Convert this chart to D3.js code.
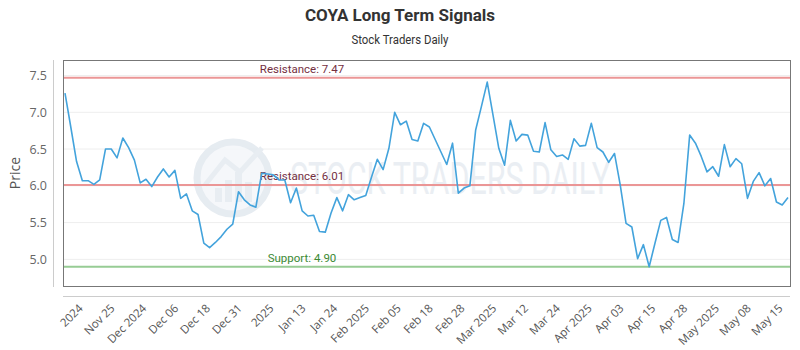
<!DOCTYPE html>
<html>
<head>
<meta charset="utf-8">
<script src="https://cdn.jsdelivr.net/npm/d3@7/dist/d3.min.js"></script>
<style>
  html, body { margin: 0; padding: 0; background: #fff; }
  svg { display: block; }
</style>
</head>
<body>
<div id="chart"></div>
<script>
// ---- data ----
const title = "COYA Long Term Signals";
const subtitle = "Stock Traders Daily";
const yAxisTitle = "Price";

const prices = [
  7.26, 6.80, 6.33, 6.07, 6.07, 6.02, 6.08, 6.50, 6.50, 6.38,
  6.65, 6.52, 6.35, 6.04, 6.09, 5.99, 6.12, 6.23, 6.12, 6.21,
  5.83, 5.89, 5.66, 5.61, 5.22, 5.16, 5.23, 5.31, 5.41, 5.48,
  5.92, 5.81, 5.74, 5.71, 6.17, 6.16, 6.15, 6.08, 6.08, 5.77,
  5.97, 5.66, 5.59, 5.60, 5.38, 5.37, 5.63, 5.84, 5.66, 5.88,
  5.81, 5.84, 5.87, 6.12, 6.36, 6.22, 6.51, 7.00, 6.83, 6.88,
  6.63, 6.61, 6.85, 6.80, 6.63, 6.46, 6.29, 6.58, 5.90, 5.97,
  6.00, 6.76, 7.08, 7.41, 6.96, 6.51, 6.28, 6.89, 6.61, 6.70,
  6.69, 6.47, 6.46, 6.86, 6.49, 6.40, 6.42, 6.36, 6.64, 6.54,
  6.55, 6.85, 6.52, 6.46, 6.32, 6.44, 6.01, 5.49, 5.44, 5.01,
  5.20, 4.90, 5.22, 5.53, 5.57, 5.27, 5.23, 5.76, 6.69, 6.58,
  6.40, 6.19, 6.26, 6.13, 6.56, 6.26, 6.37, 6.30, 5.83, 6.06,
  6.18, 6.00, 6.10, 5.78, 5.74, 5.84
];

const xTickLabels = [
  "2024", "Nov 25", "Dec 2024", "Dec 06", "Dec 18", "Dec 31", "2025",
  "Jan 13", "Jan 24", "Feb 2025", "Feb 05", "Feb 18", "Feb 28", "Mar 2025",
  "Mar 12", "Mar 24", "Apr 2025", "Apr 03", "Apr 15", "Apr 28", "May 2025",
  "May 08", "May 15"
];
// position of each tick label, in data-point index units
const xTickIndex = [
  4, 9.5, 15, 20.5, 26, 31.5, 37, 42.5, 48, 53.5, 59, 64.5,
  70, 75.5, 81, 86.5, 92, 97.5, 103, 108.5, 114, 119.5, 125
];

const yTicks = [5.0, 5.5, 6.0, 6.5, 7.0, 7.5];
const yDomain = [4.638, 7.711];

const levelNames = ["Resistance", "Resistance", "Support"];
const levelValues = [7.47, 6.01, 4.90];
const levelKinds = ["res", "res", "sup"];

// ---- layout ----
const W = 800, H = 350;
const plot = { left: 63, right: 790, top: 60, bottom: 286 };

const svg = d3.select("#chart").append("svg")
  .attr("width", W).attr("height", H)
  .style("font-family", "'Open Sans', sans-serif");

svg.append("rect").attr("width", W).attr("height", H).attr("fill", "#fff");

const x = d3.scaleLinear().domain([0, prices.length - 1]).range([65, 788]);
const y = d3.scaleLinear().domain(yDomain).range([plot.bottom, plot.top]);

// title / subtitle
svg.append("text")
  .attr("x", 400).attr("y", 21)
  .attr("text-anchor", "middle")
  .attr("font-family", "Roboto, sans-serif")
  .attr("font-weight", "bold")
  .attr("font-size", 17)
  .attr("fill", "#333")
  .attr("textLength", 190).attr("lengthAdjust", "spacingAndGlyphs")
  .text(title);

svg.append("text")
  .attr("x", 400).attr("y", 44)
  .attr("text-anchor", "middle")
  .attr("font-family", "Roboto, sans-serif")
  .attr("font-size", 12)
  .attr("fill", "#333")
  .attr("textLength", 97).attr("lengthAdjust", "spacingAndGlyphs")
  .text(subtitle);

// gridlines
svg.append("g")
  .selectAll("line").data(yTicks).join("line")
  .attr("x1", plot.left).attr("x2", plot.right)
  .attr("y1", d => y(d)).attr("y2", d => y(d))
  .attr("stroke", "#eeeeee").attr("stroke-width", 1);

// watermark
const wm = svg.append("g").attr("opacity", 0.9);
wm.append("circle").attr("cx", 233).attr("cy", 178).attr("r", 36)
  .attr("fill", "#f4f7fa").attr("stroke", "#e4eaf0").attr("stroke-width", 7);
[[-18, 14], [-8, 22], [2, 30], [12, 20]].forEach(b => {
  wm.append("rect").attr("x", 233 + b[0]).attr("y", 178 + 24 - b[1])
    .attr("width", 7).attr("height", b[1]).attr("fill", "#e6ecf1");
});
wm.append("path")
  .attr("d", "M205,185 L225,160 L240,172 L262,148")
  .attr("fill", "none").attr("stroke", "#e6ecf1").attr("stroke-width", 5);
wm.append("text")
  .attr("x", 290).attr("y", 194)
  .attr("font-family", "Roboto, sans-serif")
  .attr("font-size", 44)
  .attr("fill", "#e8edf2")
  .attr("textLength", 320).attr("lengthAdjust", "spacingAndGlyphs")
  .text("STOCK TRADERS DAILY");

// level lines
const levels = levelValues.map((v, i) => ({ v, name: levelNames[i], kind: levelKinds[i] }));
const lg = svg.append("g");
lg.selectAll("line").data(levels).join("line")
  .attr("x1", plot.left).attr("x2", plot.right)
  .attr("y1", d => y(d.v)).attr("y2", d => y(d.v))
  .attr("stroke", d => d.kind === "res" ? "#eb9696" : "#97cc95")
  .attr("stroke-width", 2);

// price line
const line = d3.line().x((d, i) => x(i)).y(d => y(d));
svg.append("path")
  .datum(prices)
  .attr("d", line)
  .attr("fill", "none")
  .attr("stroke", "#43a3dc")
  .attr("stroke-width", 1.6)
  .attr("stroke-linejoin", "round");

// level labels
lg.selectAll("text").data(levels).join("text")
  .attr("x", 302).attr("y", d => y(d.v) - 5)
  .attr("text-anchor", "middle")
  .attr("font-family", "Roboto, sans-serif")
  .attr("font-size", 11.5)
  .attr("fill", d => d.kind === "res" ? "#74303f" : "#3b8a33")
  .text(d => `${d.name}: ${d.v.toFixed(2)}`);

// plot frame
svg.append("rect")
  .attr("x", plot.left + 0.5).attr("y", plot.top + 0.5)
  .attr("width", plot.right - plot.left).attr("height", plot.bottom - plot.top)
  .attr("fill", "none").attr("stroke", "#777").attr("stroke-width", 1);

// y axis
const yAxis = d3.axisLeft(y).tickValues(yTicks).tickFormat(d3.format(".1f")).tickSize(0).tickPadding(0);
const yg = svg.append("g").attr("transform", "translate(47,0)").call(yAxis);
yg.select(".domain").remove();
yg.selectAll("text").attr("font-size", 12.5).attr("fill", "#666")
  .attr("font-family", "'Open Sans', sans-serif");
svg.append("line").attr("x1", 53.5).attr("x2", 53.5)
  .attr("y1", plot.top).attr("y2", plot.bottom + 1)
  .attr("stroke", "#ccc");

svg.append("text")
  .attr("transform", `translate(20,${(plot.top + plot.bottom) / 2}) rotate(-90)`)
  .attr("text-anchor", "middle")
  .attr("font-size", 14)
  .attr("fill", "#555")
  .text(yAxisTitle);

// x axis
svg.append("line").attr("x1", plot.left).attr("x2", plot.right)
  .attr("y1", 296.5).attr("y2", 296.5).attr("stroke", "#ccc");
const xAxis = d3.axisBottom(x).tickValues(xTickIndex)
  .tickFormat((d, i) => xTickLabels[i]).tickSize(0).tickPadding(0);
const xg = svg.append("g").attr("transform", "translate(0,296)").call(xAxis);
xg.select(".domain").remove();
xg.selectAll("text")
  .attr("font-size", 11.5).attr("fill", "#555")
  .attr("font-family", "'Open Sans', sans-serif")
  .attr("text-anchor", "end")
  .attr("dy", null)
  .attr("y", 0)
  .attr("transform", "translate(-5,13) rotate(-45)");
</script>
</body>
</html>
